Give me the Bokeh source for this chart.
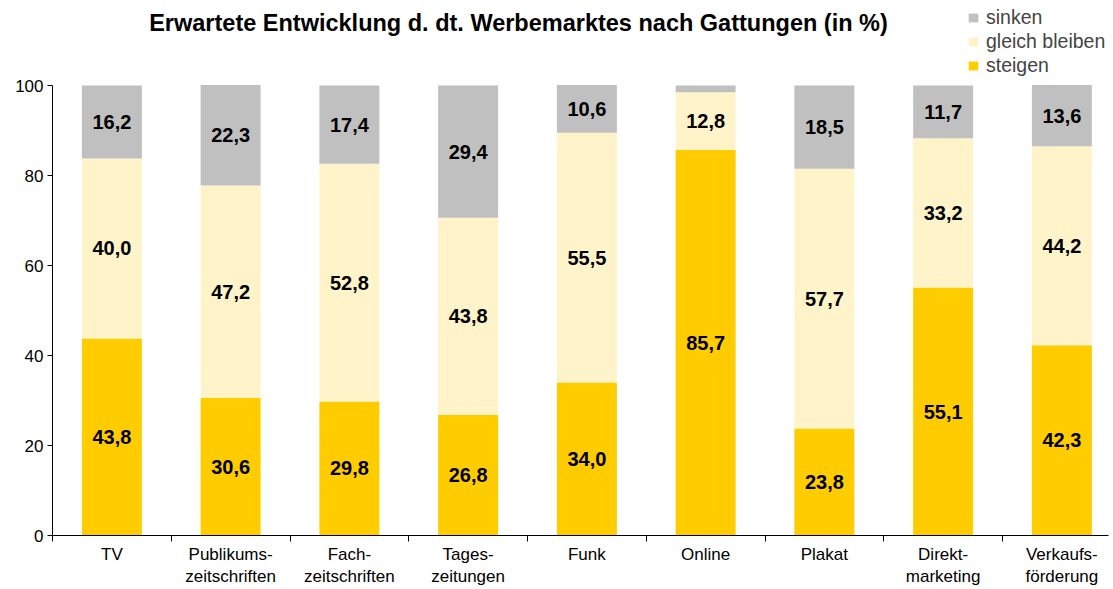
from bokeh.plotting import figure
from bokeh.models import (ColumnDataSource, Range1d, FixedTicker, LinearAxis,
                          Legend, LegendItem, Label)
from bokeh.core.properties import value
from bokeh.embed import file_html
from bokeh.resources import INLINE

categories = ["TV", "Publikums-\nzeitschriften", "Fach-\nzeitschriften", "Tages-\nzeitungen",
              "Funk", "Online", "Plakat", "Direkt-\nmarketing", "Verkaufs-\nförderung"]
steigen = [43.8, 30.6, 29.8, 26.8, 34.0, 85.7, 23.8, 55.1, 42.3]
gleich = [40.0, 47.2, 52.8, 43.8, 55.5, 12.8, 57.7, 33.2, 44.2]
sinken = [16.2, 22.3, 17.4, 29.4, 10.6, 1.5, 18.5, 11.7, 13.6]
y_ticks = [0, 20, 40, 60, 80, 100]

FONT = "Liberation Sans"
C_UP, C_EQ, C_DOWN = "#FFCC00", "#FFF4C9", "#C0C0C0"

n = len(categories)
xs = [i + 0.5 for i in range(n)]
src = ColumnDataSource(dict(x=xs, steigen=steigen, gleich=gleich, sinken=sinken))

W, H = 1113, 589
LEFT, BOTTOM, RIGHT = 52, 54, 5
FRAME_H = H - BOTTOM          # frame spans from the top of the canvas
PX_PER_UNIT = 4.5             # 100 % -> 450 px
p = figure(width=W, height=H, output_backend="svg", toolbar_location=None,
           x_range=Range1d(0, (W - LEFT - RIGHT) / 118.75),
           y_range=Range1d(0, FRAME_H / PX_PER_UNIT),
           x_axis_type=None, y_axis_type=None,
           min_border_left=LEFT, min_border_right=RIGHT, min_border_top=0,
           min_border_bottom=BOTTOM)
p.outline_line_color = None
p.background_fill_color = "white"

rs = p.vbar_stack(["steigen", "gleich", "sinken"], x="x", width=0.505, source=src,
                  color=[C_UP, C_EQ, C_DOWN], line_color=None)

# y axis
yax = LinearAxis(ticker=FixedTicker(ticks=y_ticks, minor_ticks=[]), bounds=(0, 100))
yax.axis_line_color = "black"
yax.major_tick_out = 5
yax.major_tick_in = 0
yax.major_label_text_font = FONT
yax.major_label_text_font_size = "17px"
yax.major_label_text_color = "black"
yax.major_label_standoff = 4
p.add_layout(yax, "left")

# x axis: ticks at boundaries (minor), labels at centres
xax = LinearAxis(ticker=FixedTicker(ticks=xs, minor_ticks=list(range(n + 1))))
xax.axis_line_color = "black"
xax.major_tick_out = 0
xax.major_tick_in = 0
xax.minor_tick_out = 6
xax.minor_tick_in = 0
xax.minor_tick_line_color = "black"
xax.major_label_overrides = {x: c for x, c in zip(xs, categories)}
xax.major_label_text_font = FONT
xax.major_label_text_font_size = "17px"
xax.major_label_text_color = "black"
xax.major_label_text_line_height = 1.2
xax.major_label_standoff = 3
p.add_layout(xax, "below")

p.ygrid.ticker = FixedTicker(ticks=y_ticks)
p.ygrid.grid_line_color = "#C8C8C8"
p.xgrid.visible = False

# value labels
lx, ly, lt = [], [], []
for i in range(n):
    segs = [steigen[i], gleich[i], sinken[i]]
    base = 0
    for v in segs:
        if v >= 5:
            lx.append(xs[i]); ly.append(base + v / 2)
            lt.append(("%.1f" % v).replace(".", ","))
        base += v
p.text(x=lx, y=ly, text=lt, text_align="center", text_baseline="middle",
       text_font=value(FONT), text_font_style="bold", text_font_size="20px",
       text_color="black")

legend = Legend(items=[LegendItem(label="sinken", renderers=[rs[2]]),
                       LegendItem(label="gleich bleiben", renderers=[rs[1]]),
                       LegendItem(label="steigen", renderers=[rs[0]])],
                location=(915, FRAME_H - 77))
legend.glyph_width = 12
legend.glyph_height = 11
legend.label_text_font = FONT
legend.label_text_font_size = "19.5px"
legend.label_standoff = 7
legend.spacing = 1
legend.padding = 0
legend.margin = 0
legend.border_line_color = None
legend.background_fill_alpha = 0
p.add_layout(legend)

title = Label(x=466, y=FRAME_H - 22, x_units="screen", y_units="screen",
              text="Erwartete Entwicklung d. dt. Werbemarktes nach Gattungen (in %)",
              text_align="center", text_baseline="middle",
              text_font=FONT, text_font_style="bold", text_font_size="23.5px",
              text_color="black")
p.add_layout(title)

open("out.html", "w").write(file_html(p, INLINE))
